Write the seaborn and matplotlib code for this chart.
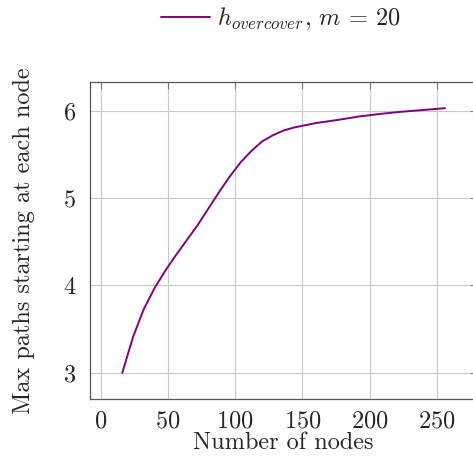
import matplotlib
matplotlib.use("Agg")
import matplotlib.pyplot as plt
import seaborn as sns
import pandas as pd

# Number of nodes in the graph and the resulting max paths per node
nodes = [16, 24, 32, 40, 48, 56, 64, 72, 80, 88, 96, 104, 112, 120, 128, 136,
         144, 160, 176, 192, 208, 224, 240, 256]
max_paths = [3.00, 3.41, 3.73, 3.97, 4.17, 4.35, 4.52, 4.69, 4.88, 5.07, 5.25,
             5.41, 5.54, 5.65, 5.72, 5.775, 5.81, 5.86, 5.895, 5.935, 5.965,
             5.99, 6.01, 6.03]
series_label = r"$h_{overcover}$, $m$ = 20"
x_ticks = [0, 50, 100, 150, 200, 250]
y_ticks = [3, 4, 5, 6]

FS = 17.5

sns.set_style("white")
plt.rcParams["font.family"] = ["cmr10", "DejaVu Serif"]
plt.rcParams["mathtext.fontset"] = "cm"
plt.rcParams["axes.formatter.use_mathtext"] = True

df = pd.DataFrame({"nodes": nodes, "max_paths": max_paths})

fig = plt.figure(figsize=(4.73, 4.59), dpi=100)
ax = fig.add_axes([90 / 473, 60 / 459, 387.3 / 473, 317 / 459])

sns.lineplot(data=df, x="nodes", y="max_paths", ax=ax, color="#800080",
             linewidth=1.4, label=series_label, legend=False)

ax.set_xlim(-8, 280)
ax.set_ylim(2.70, 6.33)
ax.set_xticks(x_ticks)
ax.set_yticks(y_ticks)
ax.grid(True, color="#c8c8c8", linewidth=0.8)
ax.set_axisbelow(True)
for side in ["left", "right", "top", "bottom"]:
    ax.spines[side].set_visible(True)
    ax.spines[side].set_color("#555555")
    ax.spines[side].set_linewidth(0.9)
ax.tick_params(direction="in", length=5, width=0.8, color="#777777",
               top=True, right=True, labelsize=FS, pad=10)
ax.tick_params(axis="x", pad=8)

ax.set_xlabel("Number of nodes", fontsize=FS, labelpad=0)
ax.set_ylabel("Max paths starting at each node", fontsize=FS, labelpad=20)

handles, labels = ax.get_legend_handles_labels()
fig.legend(handles, labels, loc="center", bbox_to_anchor=(281 / 473, 1 - 19 / 459),
           frameon=False, fontsize=FS, handlelength=2.0, handletextpad=0.3,
           borderaxespad=0)

fig.savefig("out.png", dpi=100)
